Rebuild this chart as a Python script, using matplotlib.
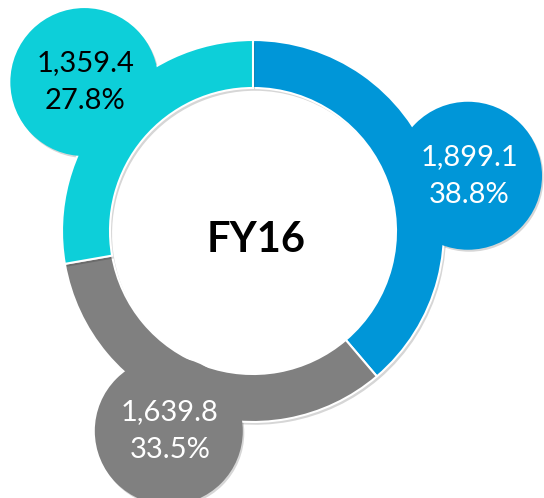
import numpy as np
import matplotlib
matplotlib.use("Agg")
import matplotlib.pyplot as plt
from matplotlib.patches import Circle
import matplotlib.patheffects as pe

plt.rcParams['font.family'] = ['Lato', 'DejaVu Sans']

# Data
segments = ["Segment A", "Segment B", "Segment C"]
values = [1899.1, 1639.8, 1359.4]
percents = [38.8, 33.5, 27.8]
center_label = "FY16"

colors = ["#0096D8", "#808080", "#0DCFD9"]
text_colors = ["white", "white", "black"]
# callout placement (clockwise angle offset in degrees, distance in px)
bub_angle_off = [5.8, 3.0, 1.4]
bub_dist = [222, 217, 225]

W, H = 544, 498
fig = plt.figure(figsize=(W / 100, H / 100), dpi=100)
ax = fig.add_axes([0, 0, 1, 1])
ax.set_xlim(0, W)
ax.set_ylim(0, H)
ax.set_aspect('equal')
ax.axis('off')

cx, cy = 253, H - 231
R = 191
ring_w = 48
bub_r = 74

shadow = [pe.SimplePatchShadow(offset=(1.5, -2), shadow_rgbFace='#000000', alpha=0.16), pe.Normal()]

wedges, _ = ax.pie(values, colors=colors, startangle=90, counterclock=False,
                   radius=R, center=(cx, cy),
                   wedgeprops=dict(width=ring_w, edgecolor='white', linewidth=1.5))
ax.set_xlim(0, W)
ax.set_ylim(0, H)
for w in wedges:
    w.set_path_effects(shadow)
    w.set_zorder(2)

for w, v, p, c, tc, da, d in zip(wedges, values, percents, colors, text_colors,
                                bub_angle_off, bub_dist):
    mid = np.deg2rad((w.theta1 + w.theta2) / 2 - da)
    bx = cx + d * np.cos(mid)
    by = cy + d * np.sin(mid)
    sh = Circle((bx + 1.5, by - 2), bub_r, facecolor='black', alpha=0.16,
                edgecolor='none', zorder=1)
    ax.add_patch(sh)
    circ = Circle((bx, by), bub_r, facecolor=c, edgecolor='none', zorder=3)
    ax.add_patch(circ)
    ax.text(bx + 1, by + 19, f"{v:,.1f}", ha='center', va='center', fontsize=21,
            color=tc, zorder=5)
    ax.text(bx + 1, by - 19, f"{p:.1f}%", ha='center', va='center', fontsize=21,
            color=tc, zorder=5)

ax.text(cx + 3, cy - 9, center_label, ha='center', va='center', fontsize=30,
        fontweight='bold', color='black', zorder=5)

fig.savefig("out.png", dpi=100)
